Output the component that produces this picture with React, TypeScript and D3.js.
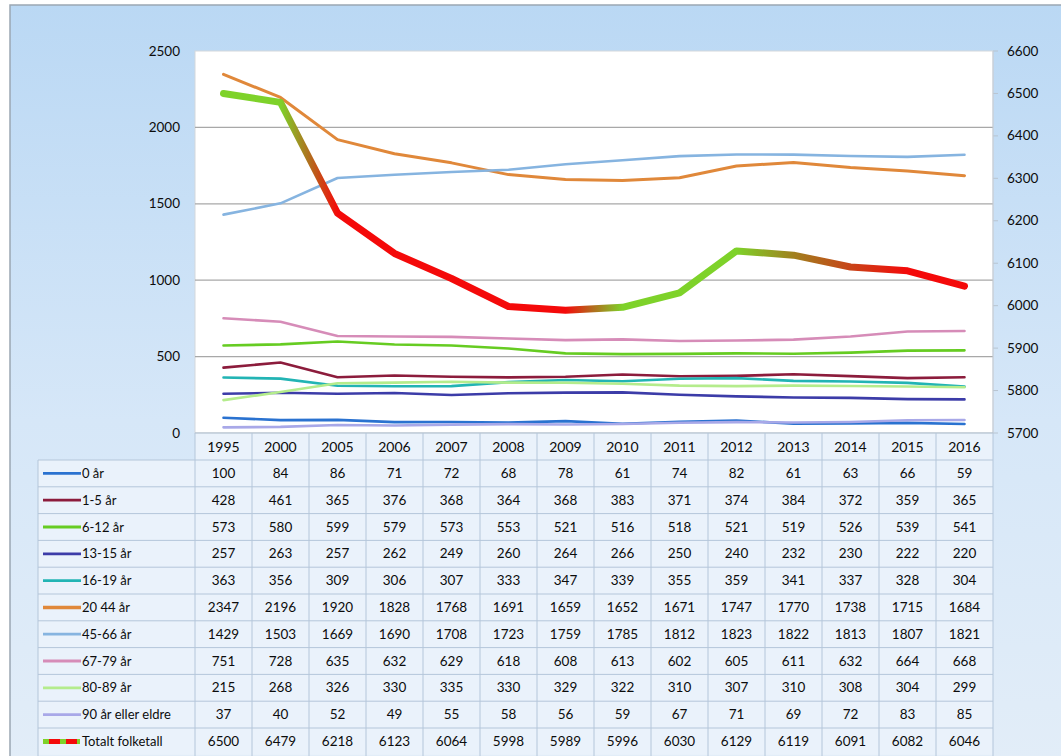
import * as d3 from "d3";

// år / aldersgrupper
const years = ["1995", "2000", "2005", "2006", "2007", "2008", "2009", "2010", "2011", "2012", "2013", "2014", "2015", "2016"];
const groups = ["0 år", "1-5 år", "6-12 år", "13-15 år", "16-19 år", "20 44 år", "45-66 år", "67-79 år", "80-89 år", "90 år eller eldre"];
const groupColors = ["#2a72d0", "#8c1c3c", "#66cc22", "#3c3ca8", "#22b4b4", "#e0883a", "#86b4e0", "#d68cb8", "#b4ec8c", "#a8a8e8"];

const age0 = [100, 84, 86, 71, 72, 68, 78, 61, 74, 82, 61, 63, 66, 59];
const age1to5 = [428, 461, 365, 376, 368, 364, 368, 383, 371, 374, 384, 372, 359, 365];
const age6to12 = [573, 580, 599, 579, 573, 553, 521, 516, 518, 521, 519, 526, 539, 541];
const age13to15 = [257, 263, 257, 262, 249, 260, 264, 266, 250, 240, 232, 230, 222, 220];
const age16to19 = [363, 356, 309, 306, 307, 333, 347, 339, 355, 359, 341, 337, 328, 304];
const age20to44 = [2347, 2196, 1920, 1828, 1768, 1691, 1659, 1652, 1671, 1747, 1770, 1738, 1715, 1684];
const age45to66 = [1429, 1503, 1669, 1690, 1708, 1723, 1759, 1785, 1812, 1823, 1822, 1813, 1807, 1821];
const age67to79 = [751, 728, 635, 632, 629, 618, 608, 613, 602, 605, 611, 632, 664, 668];
const age80to89 = [215, 268, 326, 330, 335, 330, 329, 322, 310, 307, 310, 308, 304, 299];
const age90 = [37, 40, 52, 49, 55, 58, 56, 59, 67, 71, 69, 72, 83, 85];
const total = [6500, 6479, 6218, 6123, 6064, 5998, 5989, 5996, 6030, 6129, 6119, 6091, 6082, 6046];

const leftTicks = [0, 500, 1000, 1500, 2000, 2500];
const rightTicks = [5700, 5800, 5900, 6000, 6100, 6200, 6300, 6400, 6500, 6600];

const series = [age0, age1to5, age6to12, age13to15, age16to19, age20to44, age45to66, age67to79, age80to89, age90];

const W = 1061;
const H = 756;
const plot = { left: 195, right: 993, top: 51, bottom: 433 };
const tableLeft = 38;
const rowH = 26.8;
const font = "Lato, 'Open Sans', sans-serif";
const ink = "#0c0c0c";

export default function App() {
  const x = d3.scaleBand<string>().domain(years).range([plot.left, plot.right]);
  const cx = (i: number) => (x(years[i]) as number) + x.bandwidth() / 2;
  const yL = d3.scaleLinear().domain([0, 2500]).range([plot.bottom, plot.top]);
  const yR = d3.scaleLinear().domain([5700, 6600]).range([plot.bottom, plot.top]);

  const lineL = d3
    .line<number>()
    .x((_, i) => cx(i))
    .y((d) => yL(d));
  const lineR = d3
    .line<number>()
    .x((_, i) => cx(i))
    .y((d) => yR(d));

  const green = "#7ed22a";
  const brown = "#b0701e";
  const red = "#f40a0a";
  // gradient stops along the x axis (year index, colour)
  const stops: [number, string][] = [
    [0, green], [1, green], [1.5, brown], [2, red], [6, red], [6.5, brown], [7, green],
    [9, green], [10, "#a0801e"], [11, "#c84418"], [12, red], [13, red],
  ];

  const rows = [...groups, "Totalt folketall"];
  const allData = [...series, total];
  const headerTop = plot.bottom;
  const bodyTop = headerTop + 27;

  return (
    <svg
      width={W}
      height={H}
      style={{ position: "absolute", left: 0, top: 0, display: "block" }}
      fontFamily={font}
    >
      <defs>
        <linearGradient id="bg" x1="0" y1="0" x2="0" y2="1">
          <stop offset="0" stopColor="#bad8f4" />
          <stop offset="0.55" stopColor="#d6e7f8" />
          <stop offset="1" stopColor="#e2edf8" />
        </linearGradient>
        <linearGradient id="tot" gradientUnits="userSpaceOnUse" x1={cx(0)} y1="0" x2={cx(13)} y2="0">
          {stops.map(([i, c], k) => (
            <stop key={k} offset={i / 13} stopColor={c} />
          ))}
        </linearGradient>
        <clipPath id="plotclip">
          <rect x={plot.left} y={plot.top - 10} width={plot.right - plot.left} height={plot.bottom - plot.top + 10} />
        </clipPath>
      </defs>

      <rect x={0} y={0} width={W} height={H} fill="#ffffff" />
      <rect x={10} y={5} width={W} height={H} fill="url(#bg)" stroke="#9aa7b3" strokeWidth={1.5} />

      {/* plot area */}
      <rect x={plot.left} y={plot.top} width={plot.right - plot.left} height={plot.bottom - plot.top} fill="#ffffff" stroke="#d4d8dc" />

      {leftTicks.slice(1, 5).map((t) => (
        <line key={t} x1={plot.left} x2={plot.right} y1={yL(t)} y2={yL(t)} stroke="#a8a8a8" strokeWidth={1.3} />
      ))}
      {leftTicks.map((t) => (
        <text key={t} x={180} y={yL(t) + 4.5} textAnchor="end" fontSize={13.5} fill={ink}>
          {t}
        </text>
      ))}
      {rightTicks.map((t) => (
        <g key={t}>
          <line x1={plot.right} x2={plot.right + 5} y1={yR(t)} y2={yR(t)} stroke="#b8c4d0" />
          <text x={1007} y={yR(t) + 4.5} textAnchor="start" fontSize={13.5} fill={ink}>
            {t}
          </text>
        </g>
      ))}
      <line x1={plot.right} x2={plot.right} y1={plot.top} y2={plot.bottom} stroke="#c4ccd6" />

      <g clipPath="url(#plotclip)" fill="none" strokeLinejoin="round" strokeLinecap="round">
        {series.map((s, k) => (
          <path key={k} d={lineL(s) as string} stroke={groupColors[k]} strokeWidth={k === 5 ? 3 : 2.6} />
        ))}
        <path d={lineR(total) as string} stroke="url(#tot)" strokeWidth={7} />
      </g>

      {/* data table */}
      <g>
        <rect x={plot.left} y={headerTop} width={plot.right - plot.left} height={bodyTop - headerTop} fill="#eaf2fb" />
        <rect x={tableLeft} y={bodyTop} width={plot.right - tableLeft} height={rowH * rows.length} fill="#eaf2fb" />
        {years.map((yr, i) => (
          <text key={yr} x={cx(i)} y={headerTop + 19} textAnchor="middle" fontSize={14} fill={ink}>
            {yr}
          </text>
        ))}
        {/* horizontal grid */}
        <line x1={plot.left} x2={plot.right} y1={headerTop} y2={headerTop} stroke="#a8b8c8" />
        {rows.map((_, r) => (
          <line key={r} x1={tableLeft} x2={plot.right} y1={bodyTop + r * rowH} y2={bodyTop + r * rowH} stroke="#b4c6da" />
        ))}
        {/* vertical grid */}
        <line x1={tableLeft} x2={tableLeft} y1={bodyTop} y2={H} stroke="#b4c6da" />
        {years.map((yr) => (
          <line key={yr} x1={x(yr) as number} x2={x(yr) as number} y1={headerTop} y2={H} stroke="#b4c6da" />
        ))}
        <line x1={plot.right} x2={plot.right} y1={headerTop} y2={H} stroke="#b4c6da" />

        {rows.map((name, r) => {
          const yMid = bodyTop + r * rowH + rowH / 2;
          const isTotal = r === rows.length - 1;
          return (
            <g key={name}>
              {isTotal ? (
                <g>
                  <line x1={43} x2={80} y1={yMid} y2={yMid} stroke={red} strokeWidth={5} />
                  <line x1={43} x2={80} y1={yMid} y2={yMid} stroke={green} strokeWidth={5} strokeDasharray="6 11" />
                </g>
              ) : (
                <line x1={43} x2={81} y1={yMid} y2={yMid} stroke={groupColors[r]} strokeWidth={r === 5 ? 3.5 : 2.8} />
              )}
              <text x={82} y={yMid + 4.5} fontSize={13} fill={ink}>
                {name}
              </text>
              {allData[r].map((v, i) => (
                <text key={i} x={cx(i)} y={yMid + 4.5} textAnchor="middle" fontSize={13.5} fill={ink}>
                  {v}
                </text>
              ))}
            </g>
          );
        })}
      </g>
    </svg>
  );
}
